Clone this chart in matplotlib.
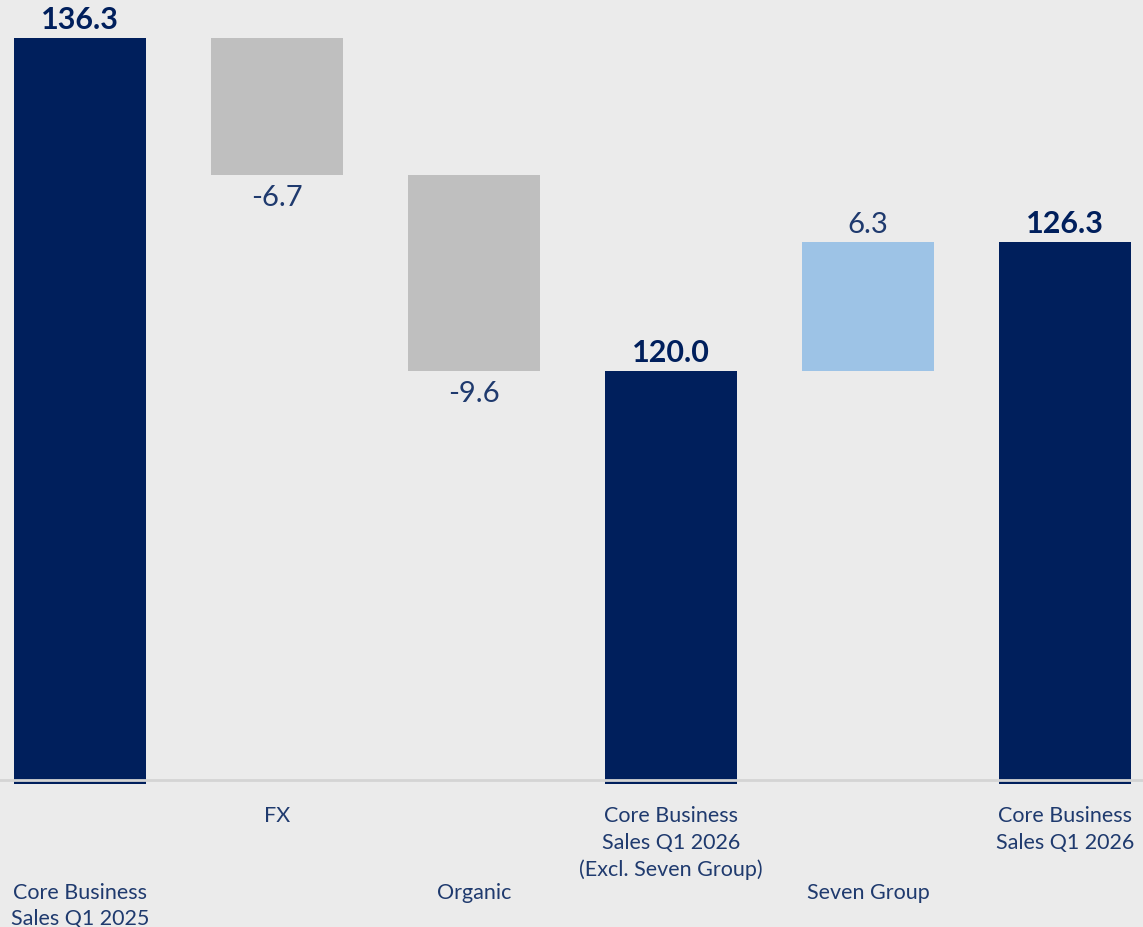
import matplotlib
matplotlib.use('Agg')
import matplotlib.pyplot as plt
from matplotlib.transforms import blended_transform_factory

# --- data ---
labels = ['Core Business\nSales Q1 2025', 'FX', 'Organic',
          'Core Business\nSales Q1 2026\n(Excl. Seven Group)', 'Seven Group',
          'Core Business\nSales Q1 2026']
values = [136.3, -6.7, -9.6, 120.0, 6.3, 126.3]
kinds = ['total', 'delta', 'delta', 'total', 'delta', 'total']
value_text = ['136.3', '-6.7', '-9.6', '120.0', '6.3', '126.3']

axis_min = 100.0

NAVY = '#001f5c'
GREY = '#bfbfbf'
LIGHT = '#9dc3e6'
TEXT = '#1f3a6e'
BG = '#ebebeb'

plt.rcParams['font.family'] = ['Lato', 'DejaVu Sans']

fig = plt.figure(figsize=(11.43, 9.28), dpi=100, facecolor=BG)
ax = fig.add_axes([0, 0, 1, 1])
ax.set_facecolor(BG)

# waterfall geometry
bottoms, heights, colors = [], [], []
running = 0.0
floor = axis_min - 0.2
for v, k in zip(values, kinds):
    if k == 'total':
        running = v
        bottoms.append(floor)
        heights.append(v - floor)
        colors.append(NAVY)
    else:
        start = running
        running = start + v
        bottoms.append(min(start, running))
        heights.append(abs(v))
        colors.append(GREY if v < 0 else LIGHT)

x = list(range(len(values)))
ax.bar(x, heights, bottom=bottoms, width=0.67, color=colors, zorder=2)
ax.axhline(axis_min, color='#d4d4d4', lw=2, zorder=3)

# value labels
for i, (v, k, b, h) in enumerate(zip(values, kinds, bottoms, heights)):
    if k == 'total':
        ax.text(i, b + h + 0.25, value_text[i], ha='center', va='bottom',
                fontsize=22, fontweight='bold', color=NAVY)
    elif v < 0:
        ax.text(i, b - 0.45, value_text[i], ha='center', va='top',
                fontsize=21, color=TEXT)
    else:
        ax.text(i, b + h + 0.25, value_text[i], ha='center', va='bottom',
                fontsize=21, color=TEXT)

# staggered category labels
tr = blended_transform_factory(ax.transData, ax.transAxes)
for i, lab in enumerate(labels):
    y = 0.049 if i % 2 == 0 else 0.131
    ax.text(i, y, lab, transform=tr, ha='center', va='top',
            fontsize=15.5, color=TEXT, linespacing=1.4)

# layout: match pixel positions of reference
ax.set_xlim(-80 / 197, (1143 - 80) / 197)
ax.set_ylim(92.8, 138.2)
ax.axis('off')

fig.savefig('out.png', dpi=100, facecolor=BG)
